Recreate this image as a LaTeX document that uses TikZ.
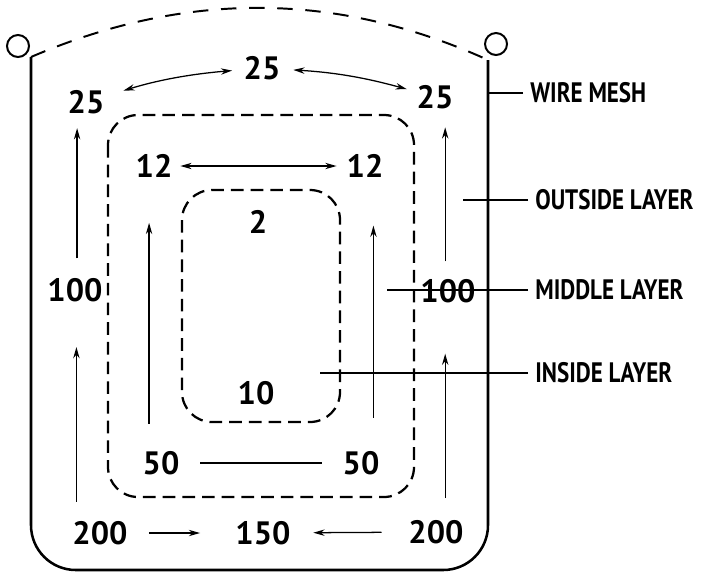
\documentclass[tikz,border=0pt]{standalone}
\usepackage{fontspec}
\setmainfont{PT Sans}
\newfontfamily\lblfont{PT Sans}[FakeStretch=0.82]
\usetikzlibrary{arrows.meta}

\tikzset{
  num/.style={inner sep=0pt, font=\fontsize{23}{25}\selectfont\bfseries},
  tag/.style={anchor=west, inner xsep=5pt, inner ysep=0pt, font=\lblfont\fontsize{20}{22}\selectfont\bfseries},
  wire/.style={line width=1.8pt},
  ring/.style={circle, draw, line width=1.4pt, minimum size=0.55cm, inner sep=0pt},
  layer/.style={line width=1.6pt, dash pattern=on 9pt off 5pt},
  mesh/.style={line width=1.4pt, dash pattern=on 11pt off 9pt},
  flow/.style={line width=0.9pt, -{Stealth[length=8pt,width=4.5pt]}},
  twoway/.style={line width=0.9pt, {Stealth[length=8pt,width=4.5pt]}-{Stealth[length=8pt,width=4.5pt]}},
  leader/.style={line width=1.2pt}
}

\begin{document}
\begin{tikzpicture}[x=0.025cm, y=-0.025cm]
  \useasboundingbox (0,0) rectangle (702,573);

  % Wire mesh basket with its two rings
  \node[ring] (lring) at (18,46) {};
  \node[ring] (rring) at (496,44) {};
  \coordinate (lt) at (31,57);
  \coordinate (rt) at (488,60);
  \draw[wire, rounded corners=1.12cm] (lt) -- (31,570) -- (488,570) -- (rt);
  \draw[mesh] (lt) .. controls (185,-9) and (336,-9) .. (rt);

  % Layers
  \draw[layer, rounded corners=0.75cm] (108,115) rectangle (414,497);
  \draw[layer, rounded corners=0.75cm] (182,190) rectangle (340,422);

  % Figures
  \node[num] (n25l) at (86,102) {25};
  \node[num] (n25c) at (262,68) {25};
  \node[num] (n25r) at (435,97) {25};
  \node[num] (n12l) at (154,166) {12};
  \node[num] (n12r) at (365,166) {12};
  \node[num] (n2) at (258,222) {2};
  \node[num] (n100l) at (75,290) {100};
  \node[num] (n100r) at (448,291) {100};
  \node[num] (n10) at (256,393) {10};
  \node[num] (n50l) at (161,463) {50};
  \node[num] (n50r) at (361,463) {50};
  \node[num] (n200l) at (100,533) {200};
  \node[num] (n150) at (263,533) {150};
  \node[num] (n200r) at (436,532) {200};

  % Flow across the top and bottom
  \draw[twoway, shorten <=14pt, shorten >=8pt] (n25l) to[bend left=6] (n25c);
  \draw[twoway, shorten <=9pt, shorten >=7pt] (n25c) to[bend left=6] (n25r);
  \draw[twoway, shorten <=5.5pt, shorten >=7pt] (n12l) -- (n12r);
  \draw[line width=0.9pt, shorten <=14.5pt, shorten >=14.5pt] (n50l) -- (n50r);
  \draw[flow, shorten <=15pt, shorten >=25pt] (n200l) -- (n150);
  \draw[flow, shorten <=19pt, shorten >=16pt] (n200r) -- (n150);

  % Upward flow
  \draw[flow, shorten <=14pt, shorten >=10pt] ([xshift=1.5pt]n100l.north) -- ([xshift=1.5pt]n100l.north |- n25l.south);
  \draw[flow, shorten <=13.5pt, shorten >=32pt] ([xshift=1pt]n100l.south |- n200l.north) -- ([xshift=1pt]n100l.south);
  \draw[flow, shorten <=12.5pt, shorten >=13pt] ([xshift=-2pt]n100r.north) -- ([xshift=-2pt]n100r.north |- n25r.south);
  \draw[flow, shorten <=15.5pt, shorten >=36pt] ([xshift=-2pt]n100r.south |- n200r.north) -- ([xshift=-2pt]n100r.south);
  \draw[flow, shorten <=19.5pt, shorten >=32pt] ([xshift=-3.5pt]n12l.south |- n50l.north) -- ([xshift=-3.5pt]n12l.south);
  \draw[flow, shorten <=23.5pt, shorten >=34pt] ([xshift=6pt]n12r.south |- n50r.north) -- ([xshift=6pt]n12r.south);

  % Labels
  \node[tag] (lmesh) at (523,93) {WIRE MESH};
  \node[tag] (lout) at (528,200) {OUTSIDE LAYER};
  \node[tag] (lmid) at (528,290) {MIDDLE LAYER};
  \node[tag] (lin) at (528,373) {INSIDE LAYER};
  \draw[leader] (lmesh.west) -- (lmesh.west -| rt);
  \draw[leader] (lout.west) -- ++(-65,0);
  \draw[leader] (lmid.west) -- ++(-141,0);
  \draw[leader] (lin.west) -- ++(-208,0);
\end{tikzpicture}
\end{document}
